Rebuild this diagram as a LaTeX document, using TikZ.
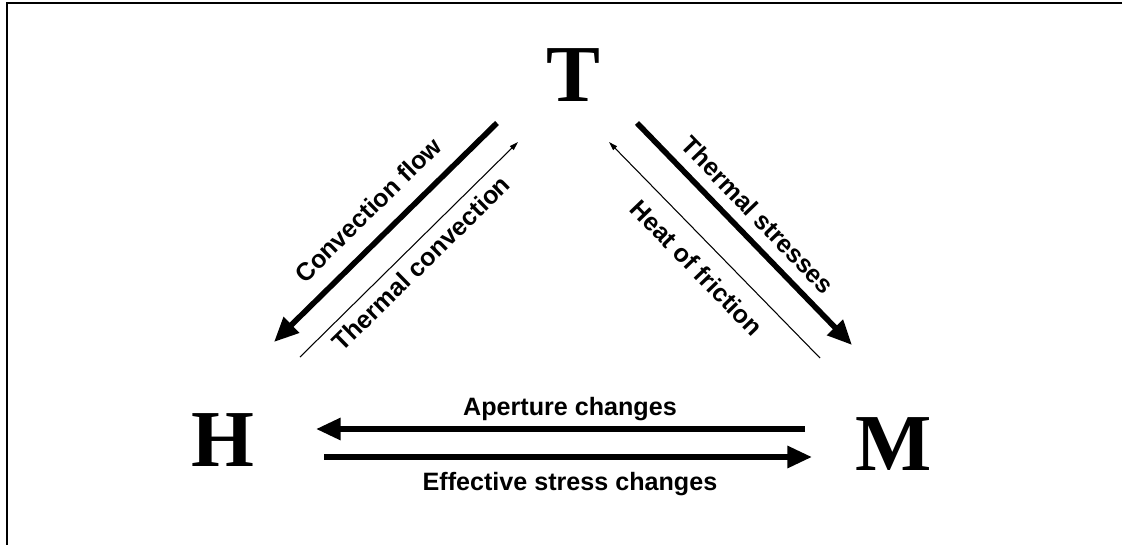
\documentclass[tikz,border=0pt]{standalone}
\usepackage{fontspec}
\setmainfont{Liberation Serif}
\setsansfont{Liberation Sans}
\usetikzlibrary{arrows.meta}

\tikzset{
  letter/.style={font=\bfseries\fontsize{46}{50}\selectfont, inner sep=0pt, anchor=base},
  lbl/.style={font=\sffamily\bfseries\fontsize{14.3}{16}\selectfont, inner sep=0pt},
  bigarrow/.style={line width=3.2pt, -{Triangle[length=14pt,width=12pt]}},
  smallarrow/.style={line width=0.6pt, -{Triangle[length=5pt,width=3pt]}}
}

\begin{document}
\begin{tikzpicture}[x=0.02cm, y=-0.02cm]
			%%%%% START %%%%%
			\useasboundingbox (0,0) rectangle (1125,545);
			\draw[line width=0.8pt] (1122,3) -- (7,3) -- (7,545);
			
			\node[letter] (T) at (573,101) {T};
			\node[letter] (H) at (223,466) {H};
			\node[letter] (M) at (894,470) {M};
			
			% T -- H
			\coordinate (cf1) at (497,123);
			\coordinate (cf2) at (274,342);
			\coordinate (tc1) at (300,357);
			\coordinate (tc2) at (518,142);
			\draw[bigarrow] (cf1) -- (cf2);
			\draw[smallarrow] (tc1) -- (tc2);
			\node[lbl, rotate=44.5] (convflow) at (368,210) {Convection flow};
			\node[lbl, rotate=44.5] (thermconv) at (421,263) {Thermal convection};
			
			% T -- M
			\coordinate (ts1) at (637,123);
			\coordinate (ts2) at (852,345);
			\coordinate (hf1) at (820,358);
			\coordinate (hf2) at (609,142);
			\draw[bigarrow] (ts1) -- (ts2);
			\draw[smallarrow] (hf1) -- (hf2);
			\node[lbl, rotate=-46] (thermstress) at (758,215) {Thermal stresses};
			\node[lbl, rotate=-46] (heatfric) at (697,268) {Heat of friction};
			
			% H -- M
			\coordinate (ap1) at (805,429);
			\coordinate (ap2) at (316,429);
			\coordinate (es1) at (324,457);
			\coordinate (es2) at (812,457);
			\draw[bigarrow] (ap1) -- (ap2);
			\draw[bigarrow] (es1) -- (es2);
			\node[lbl, anchor=base] (aperture) at (570,415) {Aperture changes};
			\node[lbl, anchor=base] (effstress) at (570,490) {Effective stress changes};
			%%%%% END %%%%%
\end{tikzpicture}
\end{document}
